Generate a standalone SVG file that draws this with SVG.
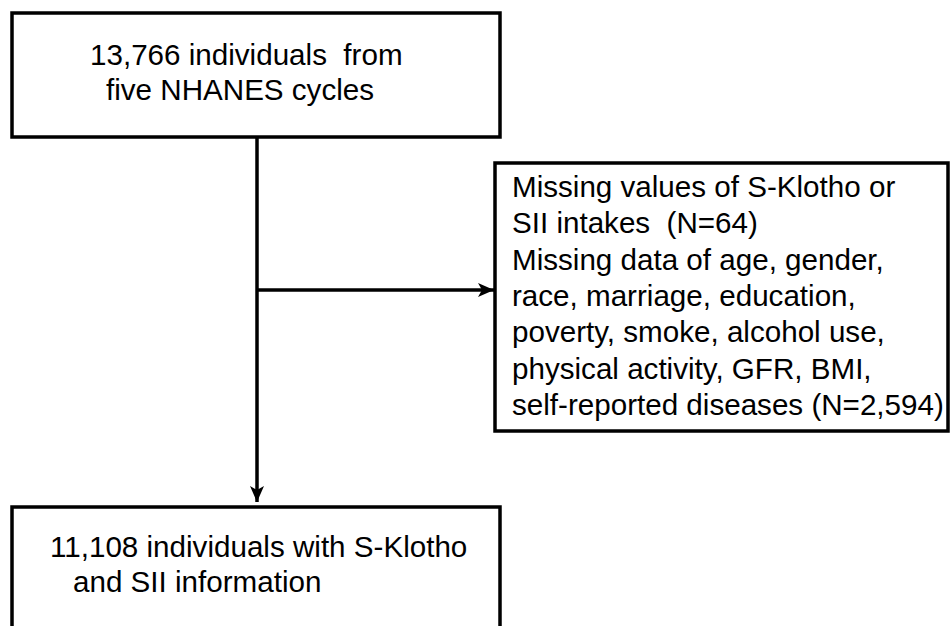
<svg xmlns="http://www.w3.org/2000/svg" width="951" height="626" viewBox="0 0 951 626">
<defs>
<style>
.box{fill:#ffffff;stroke:#000000;stroke-width:3.5}
.t{font-family:"Liberation Sans",Arial,sans-serif;font-size:29.6px;fill:#000000}
.c{stroke:#000000;stroke-width:3.5;fill:none}
</style>
<marker id="ah" markerWidth="16" markerHeight="14" refX="16" refY="7" orient="auto" markerUnits="userSpaceOnUse">
<path d="M0,0 L16,7 L0,14 L4,7 Z" fill="#000000"/>
</marker>
</defs>
<rect width="951" height="626" fill="#ffffff"/>
<g id="connectors">
<line class="c" x1="257" y1="138" x2="257" y2="502" marker-end="url(#ah)"/>
<line class="c" x1="257" y1="290" x2="494" y2="290" marker-end="url(#ah)"/>
</g>
<g id="node-start">
<rect class="box" x="12" y="13" width="488" height="124"/>
<text class="t" x="90" y="65" xml:space="preserve">13,766 individuals  from</text>
<text class="t" x="106" y="100">five NHANES cycles</text>
</g>
<g id="node-excluded">
<rect class="box" x="495" y="163" width="453" height="268"/>
<text class="t" x="512" y="197">Missing values of S-Klotho or</text>
<text class="t" x="512" y="233" xml:space="preserve">SII intakes  (N=64)</text>
<text class="t" x="512" y="270">Missing data of age, gender,</text>
<text class="t" x="512" y="306">race, marriage, education,</text>
<text class="t" x="512" y="342">poverty, smoke, alcohol use,</text>
<text class="t" x="512" y="379">physical activity, GFR, BMI,</text>
<text class="t" x="512" y="415">self-reported diseases (N=2,594)</text>
</g>
<g id="node-final">
<rect class="box" x="12" y="507" width="488" height="140"/>
<text class="t" x="50" y="557">11,108 individuals with S-Klotho</text>
<text class="t" x="73" y="592">and SII information</text>
</g>
</svg>
